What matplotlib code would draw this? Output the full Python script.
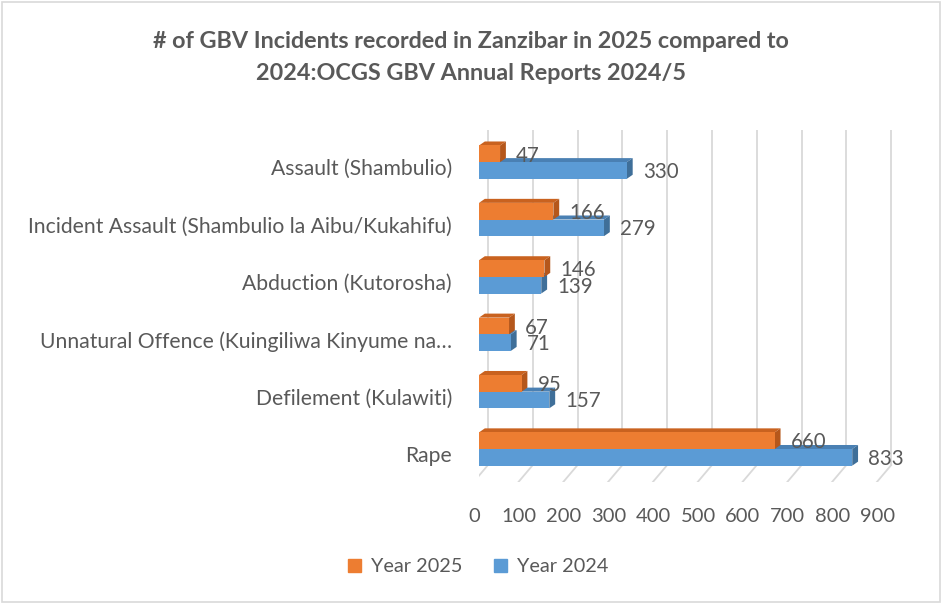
import numpy as np
import matplotlib.pyplot as plt
from matplotlib.patches import Polygon, Rectangle
from matplotlib.transforms import offset_copy

categories = [
    "Assault (Shambulio)",
    "Incident Assault (Shambulio la Aibu/Kukahifu)",
    "Abduction (Kutorosha)",
    "Unnatural Offence (Kuingiliwa Kinyume na\u2026",
    "Defilement (Kulawiti)",
    "Rape",
]
year_2025 = [47, 166, 146, 67, 95, 660]
year_2024 = [330, 279, 139, 71, 157, 833]
xticks = [0, 100, 200, 300, 400, 500, 600, 700, 800, 900]

plt.rcParams['font.family'] = ['Lato', 'DejaVu Sans']
text_col = '#595959'
orange, orange_dk, orange_top = '#ED7D31', '#B5571B', '#C9621F'
blue, blue_dk, blue_top = '#5B9BD5', '#3F6F99', '#4A80B3'

fig = plt.figure(figsize=(9.42, 6.03), dpi=100)
fig.patches.append(Rectangle((0.002, 0.002), 0.996, 0.994, transform=fig.transFigure,
                             fill=False, edgecolor='#d9d9d9', linewidth=1.2))

ax = fig.add_axes([479 / 942, 1 - 482 / 603, (893 - 479) / 942, (482 - 130) / 603])
ax.set_xlim(0, 924)
ax.set_ylim(5.575, -0.56)
for s in ax.spines.values():
    s.set_visible(False)

# fake 3d depth
dx, dy = 13, 0.07
h = 0.29
floor_back, floor_front = 5.28, 5.575

# back wall gridlines + floor lines
for t in xticks:
    ax.plot([t + 20, t + 20], [-0.56, floor_back], color='#d9d9d9', lw=1.3, zorder=0)
    ax.plot([t + 20, t - 12], [floor_back, floor_front], color='#d9d9d9', lw=1.3, zorder=0)


def bar3d(v, y0, y1, face, side, top, z):
    ax.add_patch(Rectangle((0, y0), v, y1 - y0, facecolor=face, edgecolor='none', zorder=z + 0.2))
    ax.add_patch(Polygon([(0, y0), (v, y0), (v + dx, y0 - dy), (dx, y0 - dy)],
                         closed=True, facecolor=top, edgecolor='none', zorder=z))
    ax.add_patch(Polygon([(v, y0), (v + dx, y0 - dy), (v + dx, y1 - dy), (v, y1)],
                         closed=True, facecolor=side, edgecolor='none', zorder=z + 0.1))


for i, (a, b) in enumerate(zip(year_2025, year_2024)):
    bar3d(b, i, i + h, blue, blue_dk, blue_top, 2)
    bar3d(a, i - h, i, orange, orange_dk, orange_top, 3)
    ax.annotate(str(a), (a + dx, i - 0.115), xytext=(10, 0), textcoords='offset pixels',
                ha='left', va='center', fontsize=14.8, color=text_col, zorder=5)
    ax.annotate(str(b), (b + dx, i + 0.17), xytext=(10, 0), textcoords='offset pixels',
                ha='left', va='center', fontsize=14.8, color=text_col, zorder=5)

ax.set_yticks(range(len(categories)))
ax.set_yticklabels(categories, fontsize=15.2, color=text_col)
ax.tick_params(axis='y', length=0, pad=19.5)
for lab in ax.get_yticklabels():
    lab.set_transform(offset_copy(lab.get_transform(), fig=fig, x=0, y=-5, units='dots'))

ax.set_xticks(xticks)
ax.set_xticklabels([str(t) for t in xticks], fontsize=14.5, color=text_col)
ax.tick_params(axis='x', length=0, pad=19)
for lab in ax.get_xticklabels():
    lab.set_transform(offset_copy(lab.get_transform(), fig=fig, x=-5, y=0, units='dots'))

fig.text(0.5, 1 - 42 / 603, "# of GBV Incidents recorded in Zanzibar in 2025 compared to",
         ha='center', va='center', fontsize=16.8, fontweight='bold', color=text_col)
fig.text(0.5, 1 - 73 / 603, "2024:OCGS GBV Annual Reports 2024/5",
         ha='center', va='center', fontsize=16.8, fontweight='bold', color=text_col)

handles = [Rectangle((0, 0), 1, 1, color=orange), Rectangle((0, 0), 1, 1, color=blue)]
fig.legend(handles, ['Year 2025', 'Year 2024'], loc='center', bbox_to_anchor=(478 / 942, 1 - 567 / 603),
           ncol=2, frameon=False, fontsize=14.3, labelcolor=text_col, handlelength=0.65,
           handleheight=0.65, handletextpad=0.5, columnspacing=1.6)

fig.savefig('out.png', dpi=100)
